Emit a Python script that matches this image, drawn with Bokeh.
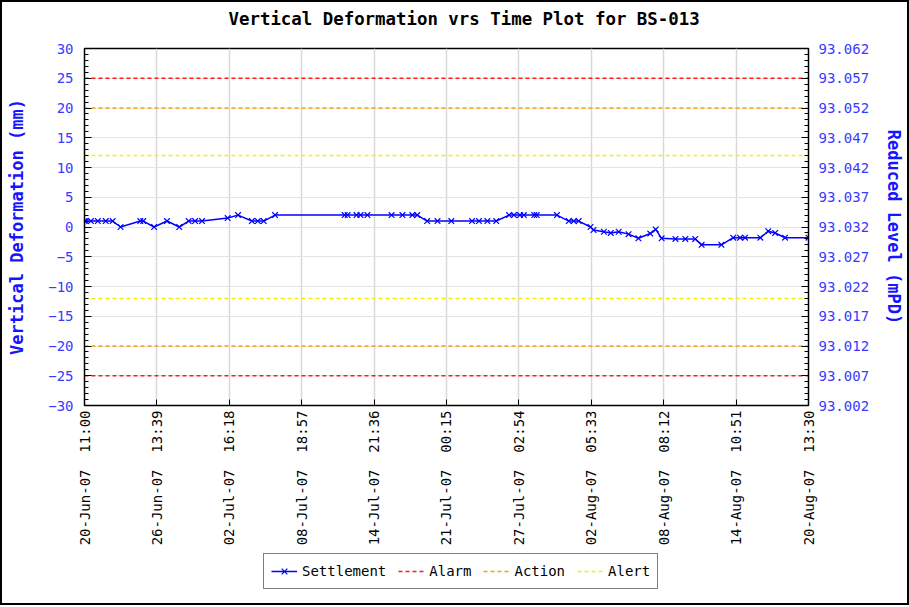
import datetime as dt
from bokeh.plotting import figure
from bokeh.layouts import column
from bokeh.models import (Range1d, LinearAxis, FixedTicker, NumeralTickFormatter,
                          Legend, LegendItem, Label)
from bokeh.embed import file_html
from bokeh.resources import INLINE

# ---------------- data ----------------
times = [
    "2007-06-20 11:00", "2007-06-20 14:00", "2007-06-21 00:00", "2007-06-21 14:00",
    "2007-06-22 06:00", "2007-06-22 20:00", "2007-06-23 12:00", "2007-06-25 04:00",
    "2007-06-25 10:00", "2007-06-26 08:00", "2007-06-27 10:00", "2007-06-28 11:00",
    "2007-06-29 06:00", "2007-06-29 19:00", "2007-06-30 09:00", "2007-07-02 13:00",
    "2007-07-03 10:00", "2007-07-04 14:00", "2007-07-05 02:00", "2007-07-05 14:00",
    "2007-07-06 13:00", "2007-07-12 10:00", "2007-07-12 16:00", "2007-07-13 10:00",
    "2007-07-13 18:00", "2007-07-14 08:00", "2007-07-16 09:00", "2007-07-17 07:00",
    "2007-07-18 03:00", "2007-07-18 13:00", "2007-07-19 09:00", "2007-07-20 06:00",
    "2007-07-21 10:00", "2007-07-23 04:00", "2007-07-23 18:00", "2007-07-24 11:00",
    "2007-07-25 05:00", "2007-07-26 07:00", "2007-07-26 17:00", "2007-07-27 05:00",
    "2007-07-27 13:00", "2007-07-28 10:00", "2007-07-28 15:00", "2007-07-30 08:00",
    "2007-07-31 08:00", "2007-07-31 18:00", "2007-08-01 04:00", "2007-08-02 04:00",
    "2007-08-02 10:00", "2007-08-03 07:00", "2007-08-03 21:00", "2007-08-04 13:00",
    "2007-08-05 09:00", "2007-08-06 05:00", "2007-08-07 05:00", "2007-08-07 16:00",
    "2007-08-08 04:00", "2007-08-09 08:00", "2007-08-10 04:00", "2007-08-11 00:00",
    "2007-08-11 13:00", "2007-08-13 05:00", "2007-08-14 05:00", "2007-08-14 19:00",
    "2007-08-15 05:00", "2007-08-16 12:00", "2007-08-17 04:00", "2007-08-17 18:00",
    "2007-08-18 14:00", "2007-08-20 13:30",
]
settlement = [
    1, 1, 1, 1,
    1, 1, 0, 1,
    1, 0, 1, 0,
    1, 1, 1, 1.5,
    2, 1, 1, 1,
    2, 2, 2, 2,
    2, 2, 2, 2,
    2, 2, 1, 1,
    1, 1, 1, 1,
    1, 2, 2, 2,
    2, 2, 2, 2,
    1, 1, 1, 0,
    -0.5, -0.8, -1, -0.8,
    -1.2, -1.9, -1.1, -0.4,
    -1.9, -2, -2, -2,
    -3, -3, -1.8, -1.8,
    -1.8, -1.8, -0.7, -1,
    -1.8, -1.8,
]
x_start = "2007-06-20 11:00"
x_end = "2007-08-20 13:30"
x_tick_times = [
    "2007-06-20 11:00", "2007-06-26 13:39", "2007-07-02 16:18", "2007-07-08 18:57",
    "2007-07-14 21:36", "2007-07-21 00:15", "2007-07-27 02:54", "2007-08-02 05:33",
    "2007-08-08 08:12", "2007-08-14 10:51", "2007-08-20 13:30",
]
x_tick_labels = [
    "20-Jun-07\u00a0 11:00", "26-Jun-07\u00a0 13:39", "02-Jul-07\u00a0 16:18",
    "08-Jul-07\u00a0 18:57", "14-Jul-07\u00a0 21:36", "21-Jul-07\u00a0 00:15",
    "27-Jul-07\u00a0 02:54", "02-Aug-07\u00a0 05:33", "08-Aug-07\u00a0 08:12",
    "14-Aug-07\u00a0 10:51", "20-Aug-07\u00a0 13:30",
]
y_ticks = [-30, -25, -20, -15, -10, -5, 0, 5, 10, 15, 20, 25, 30]
rl_ticks = [93.002, 93.007, 93.012, 93.017, 93.022, 93.027, 93.032,
            93.037, 93.042, 93.047, 93.052, 93.057, 93.062]
alarm_level = 25
action_level = 20
alert_level = 12
title_text = "Vertical Deformation vrs Time Plot for BS-013"

# ---------------- helpers ----------------
EPOCH = dt.datetime(1970, 1, 1)


def to_dt(s):
    return dt.datetime.strptime(s, "%Y-%m-%d %H:%M")


def to_ms(s):
    return (to_dt(s) - EPOCH).total_seconds() * 1000.0


FONT = "DejaVu Sans Mono"
BLUE = "#1515ff"
TICK_BLUE = "#3a3aff"
C_SET = "#0000ff"
C_ALARM = "#ff1a1a"
C_ACTION = "#ffa000"
C_ALERT = "#f2f200"
DASH = "4 3"

xs = [to_dt(t) for t in times]
x0, x1 = to_ms(x_start), to_ms(x_end)
tick_ms = [to_ms(t) for t in x_tick_times]
span_x = [to_dt(x_start), to_dt(x_end)]

# ---------------- header strip with the title ----------------
hd = figure(width=905, height=30, output_backend="svg", toolbar_location=None,
            x_range=Range1d(0, 1), y_range=Range1d(0, 1),
            x_axis_location=None, y_axis_location=None, min_border=0)
hd.outline_line_color = None
hd.grid.visible = False
hd.add_layout(Label(x=144, y=14, x_units="screen", y_units="screen",
                    text=title_text, text_font=FONT, text_font_size="17.4px",
                    text_font_style="bold", text_color="black",
                    text_baseline="middle", text_align="left"))

# ---------------- main plot ----------------
p = figure(width=905, height=516, x_axis_type="datetime",
           x_range=Range1d(x0, x1), y_range=Range1d(-30, 30),
           output_backend="svg", toolbar_location=None,
           min_border_left=82, min_border_right=97, min_border_top=16,
           min_border_bottom=140)
p.outline_line_color = "black"
p.outline_line_width = 1.5

# x axis
xa = p.xaxis[0]
xa.ticker = FixedTicker(ticks=tick_ms)
xa.major_label_overrides = {t: lab for t, lab in zip(tick_ms, x_tick_labels)}
xa.major_label_orientation = 1.5707963
xa.major_label_text_font = FONT
xa.major_label_text_font_size = "14px"
xa.major_label_text_color = "black"
xa.major_tick_in = 6
xa.major_tick_out = 0
xa.minor_tick_line_color = None
xa.axis_line_color = "black"
xa.major_label_standoff = 5

# left axis
ya = p.yaxis[0]
ya.ticker = FixedTicker(ticks=y_ticks, minor_ticks=list(range(-30, 31)))
ya.axis_label = "Vertical Deformation (mm)"
ya.axis_label_text_font = FONT
ya.axis_label_text_font_size = "17px"
ya.axis_label_text_font_style = "bold"
ya.axis_label_text_color = BLUE
ya.axis_label_standoff = 18
ya.major_label_text_font = FONT
ya.major_label_text_font_size = "14px"
ya.major_label_text_color = TICK_BLUE
ya.major_label_standoff = 11
ya.major_tick_in = 7
ya.major_tick_out = 0
ya.minor_tick_in = 4
ya.minor_tick_out = 0
ya.axis_line_color = "black"

# right axis
p.extra_y_ranges = {"rl": Range1d(rl_ticks[0], rl_ticks[-1])}
ra = LinearAxis(y_range_name="rl",
                ticker=FixedTicker(ticks=rl_ticks,
                                   minor_ticks=[93.002 + 0.001 * i for i in range(61)]),
                formatter=NumeralTickFormatter(format="0.000"))
ra.axis_label = "Reduced Level (mPD)"
ra.axis_label_text_font = FONT
ra.axis_label_text_font_size = "17px"
ra.axis_label_text_font_style = "bold"
ra.axis_label_text_color = BLUE
ra.axis_label_standoff = 12
ra.major_label_text_font = FONT
ra.major_label_text_font_size = "14px"
ra.major_label_text_color = TICK_BLUE
ra.major_label_standoff = 10
ra.major_tick_in = 7
ra.major_tick_out = 0
ra.minor_tick_in = 4
ra.minor_tick_out = 0
ra.axis_line_color = "black"
p.add_layout(ra, "right")

# grids
p.xgrid.ticker = FixedTicker(ticks=tick_ms)
p.xgrid.grid_line_color = "#d8d8d8"
p.xgrid.grid_line_width = 1.5
p.ygrid.ticker = FixedTicker(ticks=y_ticks)
p.ygrid.grid_line_color = "#e4e4e4"
p.ygrid.grid_line_width = 1.2

# threshold lines
for lv in (alarm_level, -alarm_level):
    p.line(span_x, [lv, lv], line_color=C_ALARM, line_dash=DASH, line_width=1.5)
for lv in (action_level, -action_level):
    p.line(span_x, [lv, lv], line_color=C_ACTION, line_dash=DASH, line_width=1.5)
for lv in (alert_level, -alert_level):
    p.line(span_x, [lv, lv], line_color=C_ALERT, line_dash=DASH, line_width=1.5)

# settlement series
p.line(xs, settlement, line_color=C_SET, line_width=1.5)
p.scatter(xs, settlement, marker="x", size=8, line_color=C_SET, line_width=1.2)

# ---------------- legend strip (keys only; ranges keep the series out of view) ----
lg = figure(width=905, height=55, output_backend="svg", toolbar_location=None,
            x_range=Range1d(0, 1), y_range=Range1d(100, 101),
            x_axis_location=None, y_axis_location=None, min_border=0)
lg.outline_line_color = None
lg.grid.visible = False
k_set_l = lg.line(xs, settlement, line_color=C_SET, line_width=1.5)
k_set_p = lg.scatter(xs, settlement, marker="x", size=8, line_color=C_SET, line_width=1.2)
k_alarm = lg.line(span_x, [alarm_level, alarm_level], line_color=C_ALARM,
                  line_dash=DASH, line_width=1.5)
k_action = lg.line(span_x, [action_level, action_level], line_color=C_ACTION,
                   line_dash=DASH, line_width=1.5)
k_alert = lg.line(span_x, [alert_level, alert_level], line_color=C_ALERT,
                  line_dash=DASH, line_width=1.5)

legend = Legend(items=[
    LegendItem(label="Settlement", renderers=[k_set_l, k_set_p]),
    LegendItem(label="Alarm", renderers=[k_alarm]),
    LegendItem(label="Action", renderers=[k_action]),
    LegendItem(label="Alert", renderers=[k_alert]),
], orientation="horizontal", location=(179, 14))
legend.label_text_font = FONT
legend.label_text_font_size = "14px"
legend.label_text_color = "black"
legend.border_line_color = "black"
legend.border_line_width = 1.5
legend.background_fill_color = "white"
legend.background_fill_alpha = 1.0
legend.glyph_width = 26
legend.glyph_height = 20
legend.label_height = 20
legend.label_standoff = 5
legend.spacing = 12
legend.padding = 7
legend.margin = 0
lg.add_layout(legend)

page = column(hd, p, lg, spacing=0, styles={"border": "2px solid black"})

open("out.html", "w").write(file_html(page, INLINE))
